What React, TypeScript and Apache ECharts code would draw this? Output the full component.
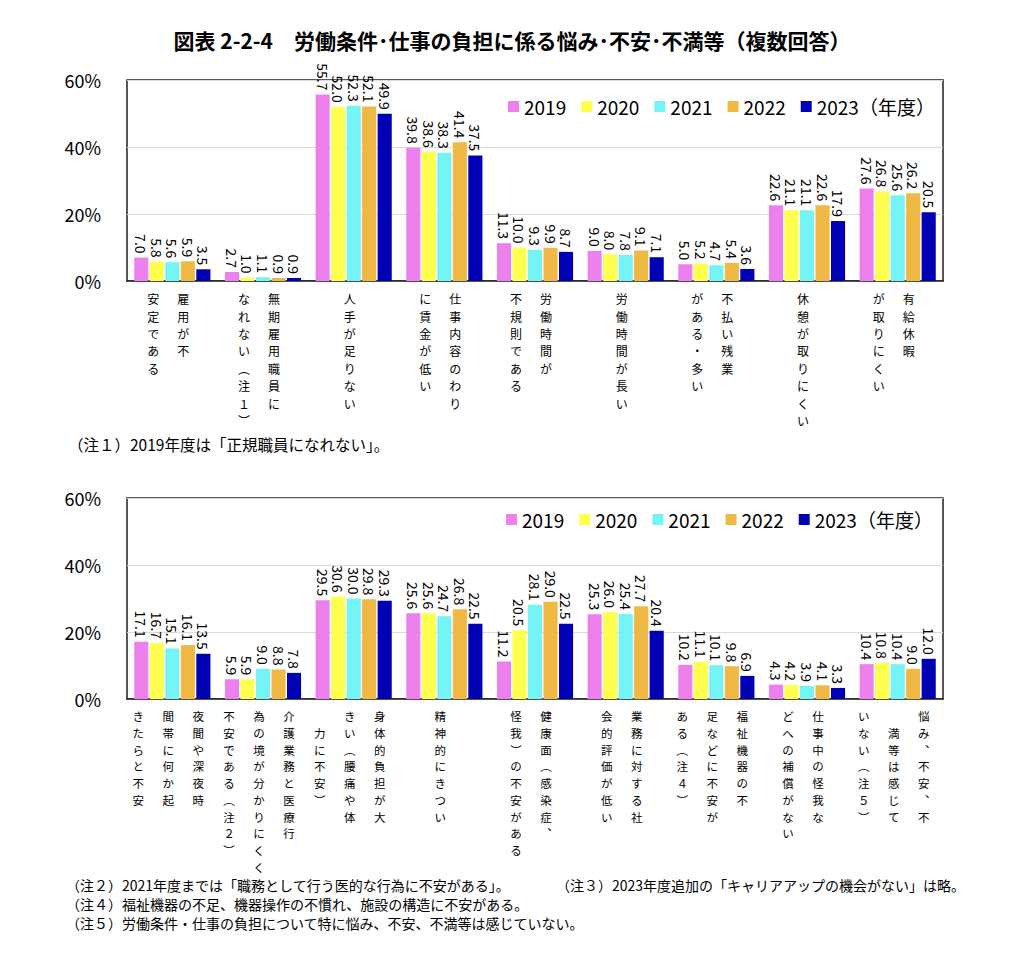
import React, { useEffect, useRef } from "react";
import * as echarts from "echarts";

const years = ["2019", "2020", "2021", "2022", "2023"];
const yearColors = ["#EE80EE", "#FFFF50", "#74F4F4", "#F0B844", "#0000B4"];

// Category labels: each entry lists vertical columns, right-most column first
const topCategories = [
  ["雇用が不", "安定である"],
  ["無期雇用職員に", "なれない（注１）"],
  ["人手が足りない"],
  ["仕事内容のわり", "に賃金が低い"],
  ["労働時間が", "不規則である"],
  ["労働時間が長い"],
  ["不払い残業", "がある・多い"],
  ["休憩が取りにくい"],
  ["有給休暇", "が取りにくい"],
];
const top2019 = [7.0, 2.7, 55.7, 39.8, 11.3, 9.0, 5.0, 22.6, 27.6];
const top2020 = [5.8, 1.0, 52.0, 38.6, 10.0, 8.0, 5.2, 21.1, 26.8];
const top2021 = [5.6, 1.1, 52.3, 38.3, 9.3, 7.8, 4.7, 21.1, 25.6];
const top2022 = [5.9, 0.9, 52.1, 41.4, 9.9, 9.1, 5.4, 22.6, 26.2];
const top2023 = [3.5, 0.9, 49.9, 37.5, 8.7, 7.1, 3.6, 17.9, 20.5];

const bottomCategories = [
  ["夜間や深夜時", "間帯に何か起", "きたらと不安"],
  ["介護業務と医療行", "為の境が分かりにくく", "不安である（注２）"],
  ["身体的負担が大", "きい（腰痛や体", "\u3000力に不安）"],
  ["精神的にきつい"],
  ["健康面（感染症、", "怪我）の不安がある"],
  ["業務に対する社", "会的評価が低い"],
  ["福祉機器の不", "足などに不安が", "ある（注４）"],
  ["仕事中の怪我な", "どへの補償がない"],
  ["悩み、不安、不", "\u3000満等は感じて", "いない（注５）"],
];
const bottom2019 = [17.1, 5.9, 29.5, 25.6, 11.2, 25.3, 10.2, 4.3, 10.4];
const bottom2020 = [16.7, 5.9, 30.6, 25.6, 20.5, 26.0, 11.1, 4.2, 10.8];
const bottom2021 = [15.1, 9.0, 30.0, 24.7, 28.1, 25.4, 10.1, 3.9, 10.4];
const bottom2022 = [16.1, 8.8, 29.8, 26.8, 29.0, 27.7, 9.8, 4.1, 9.0];
const bottom2023 = [13.5, 7.8, 29.3, 22.5, 22.5, 20.4, 6.9, 3.3, 12.0];

const yTicks = [0, 20, 40, 60];

const titleText = "図表 2-2-4　労働条件･仕事の負担に係る悩み･不安･不満等（複数回答）";
const note1 = "（注１）2019年度は「正規職員になれない」。";
const note2 = "（注２）2021年度までは「職務として行う医的な行為に不安がある」。";
const note3 = "（注３）2023年度追加の「キャリアアップの機会がない」は略。";
const note4 = "（注４）福祉機器の不足、機器操作の不慣れ、施設の構造に不安がある。";
const note5 = "（注５）労働条件・仕事の負担について特に悩み、不安、不満等は感じていない。";

const FONT = '"Noto Sans CJK JP", "Noto Sans", sans-serif';

const verticalMap: Record<string, string> = {
  "（": "\uFE35",
  "）": "\uFE36",
  "、": "\uFE11",
  "。": "\uFE12",
};
const toVertical = (s: string) =>
  Array.from(s)
    .map((c) => verticalMap[c] || c)
    .join("\n");

export default function App() {
  const ref = useRef<HTMLDivElement>(null);

  useEffect(() => {
    if (!ref.current) return;
    const chart = echarts.init(ref.current, null, { renderer: "svg" });

    const topData = [top2019, top2020, top2021, top2022, top2023];
    const bottomData = [bottom2019, bottom2020, bottom2021, bottom2022, bottom2023];

    const grids = [
      { left: 127, right: 81, top: 80, height: 201 },
      { left: 127, right: 81, top: 498, height: 201 },
    ];

    const makeSeries = (data: number[][], gi: number) =>
      data.map((vals, k) => ({
        name: years[k],
        type: "bar",
        xAxisIndex: gi,
        yAxisIndex: gi,
        data: vals,
        barGap: "10%",
        barCategoryGap: "16%",
        itemStyle: { color: yearColors[k] },
        label: {
          show: true,
          position: "top",
          rotate: -90,
          align: "right",
          verticalAlign: "middle",
          distance: 4,
          fontSize: 14,
          fontFamily: FONT,
          color: "#000",
          formatter: (p: any) => Number(p.value).toFixed(1),
        },
      }));

    const makeLegend = (left: number, top: number) => ({
      left,
      top,
      padding: 0,
      itemWidth: 11,
      itemHeight: 11,
      itemGap: 15,
      icon: "rect",
      data: years,
      formatter: (n: string) => (n === "2023" ? "2023（年度）" : n),
      textStyle: { fontSize: 19, fontFamily: FONT, color: "#000" },
    });

    const option: any = {
      animation: false,
      backgroundColor: "#fff",
      title: {
        text: titleText,
        left: "center",
        top: 29,
        padding: 0,
        textStyle: { fontSize: 21, fontWeight: "bold", fontFamily: FONT, color: "#000" },
      },
      legend: [makeLegend(508, 97), makeLegend(506, 510)],
      grid: grids.map((g) => ({
        ...g,
        show: true,
        borderColor: "#222",
        borderWidth: 1.5,
        backgroundColor: "transparent",
        containLabel: false,
      })),
      xAxis: [0, 1].map((gi) => ({
        type: "category",
        gridIndex: gi,
        data: (gi === 0 ? topCategories : bottomCategories).map((c) => c.join("")),
        axisLine: { show: true, lineStyle: { color: "#222", width: 1.5 } },
        axisTick: { show: false },
        axisLabel: { show: false },
      })),
      yAxis: [0, 1].map((gi) => ({
        type: "value",
        gridIndex: gi,
        min: yTicks[0],
        max: yTicks[yTicks.length - 1],
        interval: 20,
        axisLine: { show: false },
        axisTick: { show: false },
        splitLine: { show: true, lineStyle: { color: "#d9d9d9", width: 1.2 } },
        axisLabel: {
          formatter: "{value}%",
          fontSize: 18,
          fontFamily: FONT,
          color: "#000",
          margin: 26,
        },
      })),
      series: [...makeSeries(topData, 0), ...makeSeries(bottomData, 1)],
    };

    chart.setOption(option);

    const graphics: any[] = [];
    const noteStyle = (text: string, size: number) => ({
      text,
      fontSize: size,
      fontFamily: FONT,
      fill: "#000",
      align: "left",
      verticalAlign: "middle",
    });
    graphics.push({ type: "text", x: 68, y: 444, style: noteStyle(note1, 15.5) });
    graphics.push({ type: "text", x: 66, y: 885, style: noteStyle(note2, 14) });
    graphics.push({ type: "text", x: 556, y: 885, style: noteStyle(note3, 14) });
    graphics.push({ type: "text", x: 66, y: 904, style: noteStyle(note4, 14) });
    graphics.push({ type: "text", x: 66, y: 923, style: noteStyle(note5, 14) });

    const colPitch = 30;
    const labelFont = [12, 11.5];
    const labelLine = [17.4, 16.7];
    [topCategories, bottomCategories].forEach((cats, gi) => {
      cats.forEach((cols, i) => {
        const pt = chart.convertToPixel({ gridIndex: gi } as any, [i, 0]) as number[];
        if (!pt) return;
        const n = cols.length;
        cols.forEach((col, j) => {
          const cx = pt[0] - 4 + ((n - 1) / 2 - j) * colPitch;
          graphics.push({
            type: "text",
            x: cx,
            y: pt[1] + 9,
            style: {
              text: toVertical(col),
              fontSize: labelFont[gi],
              fontFamily: FONT,
              fill: "#000",
              align: "center",
              verticalAlign: "top",
              lineHeight: labelLine[gi],
            },
          });
        });
      });
    });

    chart.setOption({ graphic: graphics });

    return () => {
      chart.dispose();
    };
  }, []);

  return (
    <div
      ref={ref}
      style={{ position: "absolute", left: 0, top: 0, width: 1024, height: 963 }}
    />
  );
}
